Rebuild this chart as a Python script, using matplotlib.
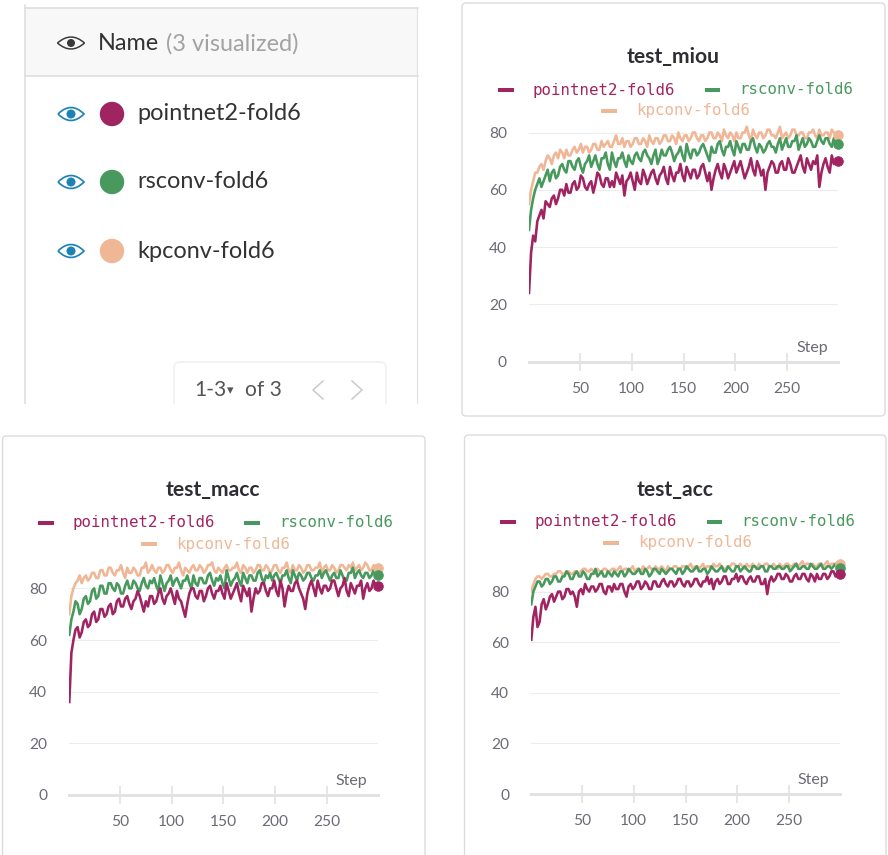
import matplotlib
matplotlib.use("Agg")
import matplotlib.pyplot as plt
from matplotlib.patches import FancyBboxPatch, Circle, PathPatch, Rectangle
from matplotlib.path import Path

plt.rcParams['font.family'] = ['Lato', 'DejaVu Sans']

# ---------------- data ----------------
runs = ["pointnet2-fold6", "rsconv-fold6", "kpconv-fold6"]
run_colors = ["#a02462", "#48995e", "#f0b797"]
steps = list(range(1, 300, 2))
x_ticks = [50, 100, 150, 200, 250]
y_ticks = [0, 20, 40, 60, 80]

miou_pointnet = [24, 38, 44, 42, 49, 51, 53, 50, 56, 55, 54, 57, 58, 55, 57, 60, 60, 58, 62, 59,
                 59, 62, 63, 60, 61, 65, 64, 61, 60, 62, 63, 59, 62, 66, 65, 62, 61, 64, 64, 61,
                 63, 61, 66, 64, 62, 65, 58, 63, 64, 66, 63, 60, 66, 63, 62, 67, 65, 62, 64, 66,
                 67, 64, 62, 65, 66, 68, 64, 62, 68, 65, 63, 66, 66, 69, 65, 63, 68, 66, 64, 67,
                 67, 64, 65, 68, 69, 66, 63, 66, 60, 64, 67, 69, 66, 64, 69, 67, 64, 66, 68, 70,
                 66, 68, 70, 67, 64, 66, 68, 71, 67, 65, 70, 68, 65, 67, 60, 66, 68, 70, 69, 66,
                 66, 69, 70, 67, 67, 71, 69, 66, 66, 68, 70, 72, 68, 66, 71, 69, 67, 70, 69, 72,
                 61, 66, 69, 71, 68, 66, 72, 69, 70, 70]
miou_rsconv = [46, 53, 57, 60, 62, 64, 61, 63, 65, 67, 63, 66, 67, 64, 65, 68, 69, 67, 66, 70,
               70, 68, 67, 70, 71, 68, 66, 69, 70, 72, 68, 70, 72, 69, 67, 71, 71, 73, 69, 67,
               73, 70, 68, 71, 71, 73, 70, 68, 72, 70, 69, 72, 73, 71, 70, 73, 74, 72, 71, 69,
               72, 74, 69, 71, 74, 72, 72, 74, 75, 73, 70, 72, 73, 75, 72, 70, 76, 73, 71, 74,
               74, 72, 73, 75, 76, 74, 72, 70, 75, 73, 73, 76, 77, 74, 72, 75, 75, 77, 74, 72,
               77, 75, 73, 76, 76, 74, 74, 77, 78, 75, 73, 76, 75, 73, 74, 76, 77, 75, 75, 73,
               76, 78, 74, 76, 78, 75, 75, 77, 77, 79, 74, 76, 78, 75, 76, 78, 77, 75, 75, 77,
               79, 77, 76, 78, 78, 76, 75, 78, 76, 76]
miou_kpconv = [55, 60, 63, 66, 66, 68, 69, 67, 70, 72, 71, 69, 72, 73, 71, 74, 73, 71, 74, 72,
               72, 74, 75, 73, 74, 76, 73, 75, 75, 73, 74, 76, 76, 74, 74, 77, 75, 76, 77, 75,
               75, 77, 79, 76, 76, 78, 75, 77, 77, 75, 76, 78, 78, 76, 76, 78, 77, 75, 79, 77,
               76, 78, 78, 76, 77, 79, 79, 77, 77, 79, 78, 76, 80, 78, 77, 79, 79, 77, 78, 80,
               80, 78, 77, 79, 79, 77, 78, 80, 80, 78, 78, 80, 79, 77, 81, 79, 78, 80, 79, 77,
               80, 78, 78, 80, 80, 82, 79, 77, 81, 79, 78, 80, 80, 78, 79, 81, 81, 79, 79, 78,
               80, 82, 78, 79, 80, 78, 79, 81, 81, 79, 79, 80, 80, 78, 78, 80, 80, 81, 79, 78,
               81, 79, 79, 80, 80, 78, 81, 80, 79, 79]

macc_pointnet = [36, 55, 60, 64, 65, 61, 63, 67, 68, 65, 66, 70, 71, 67, 68, 72, 72, 69, 70, 73,
                 74, 70, 71, 75, 76, 73, 73, 76, 77, 74, 72, 75, 76, 79, 77, 74, 71, 75, 73, 77,
                 77, 74, 75, 78, 80, 76, 74, 77, 78, 80, 77, 74, 79, 76, 75, 72, 69, 74, 78, 80,
                 80, 77, 76, 79, 79, 75, 77, 80, 81, 78, 76, 79, 79, 81, 78, 76, 82, 79, 76, 78,
                 80, 82, 78, 75, 81, 79, 77, 80, 71, 76, 80, 78, 79, 82, 82, 79, 77, 80, 80, 83,
                 79, 77, 83, 80, 73, 78, 81, 79, 79, 82, 83, 80, 78, 76, 72, 78, 81, 83, 80, 77,
                 83, 80, 78, 81, 81, 79, 80, 83, 83, 80, 77, 80, 81, 84, 79, 77, 82, 80, 78, 81,
                 81, 83, 76, 80, 82, 79, 80, 83, 81, 81]
macc_rsconv = [62, 68, 71, 75, 74, 70, 72, 76, 77, 74, 75, 79, 80, 76, 77, 81, 81, 78, 78, 82,
               82, 80, 79, 82, 81, 78, 78, 81, 83, 80, 80, 83, 82, 80, 79, 82, 84, 81, 80, 83,
               82, 84, 81, 79, 85, 82, 79, 82, 83, 85, 81, 83, 84, 82, 80, 83, 83, 85, 82, 80,
               85, 82, 81, 84, 84, 82, 82, 85, 86, 83, 81, 84, 83, 85, 82, 80, 87, 84, 81, 83,
               84, 86, 83, 81, 86, 84, 82, 85, 85, 83, 83, 86, 87, 84, 82, 85, 84, 86, 83, 85,
               86, 84, 82, 85, 85, 87, 84, 82, 87, 85, 83, 86, 85, 83, 84, 86, 86, 84, 83, 85,
               85, 87, 84, 86, 87, 85, 83, 85, 86, 84, 84, 87, 85, 83, 83, 86, 86, 88, 84, 86,
               87, 85, 84, 86, 86, 84, 85, 87, 85, 85]
macc_kpconv = [70, 77, 80, 82, 83, 85, 82, 84, 85, 83, 84, 86, 86, 84, 84, 87, 87, 85, 85, 88,
               88, 86, 85, 87, 87, 89, 86, 84, 88, 86, 86, 88, 87, 85, 85, 88, 88, 90, 86, 87,
               89, 87, 86, 88, 88, 86, 87, 89, 89, 87, 86, 88, 88, 90, 87, 85, 88, 87, 86, 88,
               89, 87, 87, 89, 88, 86, 87, 89, 89, 90, 87, 86, 88, 87, 86, 88, 89, 87, 87, 88,
               88, 90, 87, 86, 89, 88, 86, 88, 88, 86, 87, 89, 89, 87, 87, 89, 88, 86, 87, 89,
               89, 87, 86, 88, 88, 90, 87, 86, 89, 87, 87, 89, 88, 86, 87, 89, 89, 87, 87, 88,
               88, 90, 86, 88, 89, 87, 87, 89, 88, 86, 87, 89, 89, 88, 87, 89, 88, 90, 87, 88,
               89, 87, 88, 90, 89, 87, 87, 89, 88, 88]

acc_pointnet = [61, 70, 74, 66, 68, 75, 77, 73, 75, 78, 79, 76, 78, 80, 80, 77, 78, 81, 81, 79,
                80, 78, 74, 80, 81, 79, 83, 81, 80, 82, 82, 80, 81, 83, 83, 80, 79, 82, 82, 80,
                83, 81, 81, 83, 83, 80, 78, 82, 83, 81, 82, 84, 84, 81, 82, 84, 83, 81, 81, 84,
                84, 82, 82, 84, 85, 83, 82, 84, 84, 82, 83, 85, 85, 83, 82, 84, 84, 82, 83, 85,
                85, 83, 82, 84, 84, 86, 83, 85, 81, 84, 85, 83, 84, 86, 86, 83, 83, 85, 85, 87,
                84, 86, 86, 84, 83, 85, 86, 84, 84, 86, 86, 83, 83, 85, 79, 84, 86, 84, 85, 87,
                87, 85, 85, 87, 86, 84, 84, 86, 87, 85, 85, 87, 87, 85, 84, 87, 86, 84, 87, 85,
                85, 87, 87, 85, 86, 88, 88, 86, 87, 87]
acc_rsconv = [75, 80, 82, 84, 84, 82, 83, 85, 85, 83, 84, 86, 86, 84, 84, 86, 86, 88, 87, 85,
              85, 87, 88, 86, 86, 88, 87, 85, 85, 87, 87, 89, 86, 87, 88, 86, 86, 88, 87, 86,
              88, 87, 86, 88, 88, 86, 87, 89, 88, 87, 87, 88, 89, 87, 87, 89, 88, 86, 87, 89,
              89, 88, 87, 89, 88, 87, 88, 89, 89, 88, 87, 89, 89, 87, 88, 90, 89, 88, 88, 89,
              90, 88, 88, 89, 89, 87, 88, 90, 89, 88, 88, 89, 90, 88, 88, 90, 89, 88, 88, 90,
              90, 88, 89, 90, 89, 88, 88, 90, 90, 89, 89, 90, 90, 88, 88, 90, 90, 89, 89, 90,
              90, 89, 89, 90, 90, 88, 89, 90, 91, 89, 89, 90, 90, 89, 89, 91, 90, 89, 89, 90,
              91, 89, 89, 90, 90, 89, 90, 91, 89.5, 89.5]
acc_kpconv = [80, 83, 85, 86, 86, 85, 86, 87, 87, 86, 86, 87, 87, 88, 88, 87, 87, 88, 88, 87,
              87, 88, 88, 87, 88, 89, 89, 88, 88, 89, 88, 87, 89, 88, 88, 89, 89, 88, 88, 89,
              89, 88, 89, 90, 88, 89, 89, 88, 89, 90, 88, 89, 89, 88, 90, 89, 89, 90, 89, 88,
              90, 89, 89, 90, 89, 88, 90, 89, 89, 90, 90, 89, 89, 90, 90, 89, 90, 91, 89, 90,
              90, 89, 90, 91, 89, 90, 90, 89, 91, 90, 90, 91, 90, 89, 89, 90, 90, 91, 91, 90,
              90, 91, 90, 89, 91, 90, 90, 91, 90, 89, 91, 90, 90, 91, 91, 90, 90, 91, 90, 89,
              91, 90, 90, 91, 91, 90, 90, 91, 91, 90, 91, 92, 90, 91, 91, 90, 91, 90, 90, 91,
              91, 90, 91, 92, 90, 91, 91, 90, 91, 91]

# ---------------- figure ----------------
W, H = 888, 855
fig = plt.figure(figsize=(W / 72, H / 72), dpi=72)
bg = fig.add_axes([0, 0, 1, 1])
bg.set_xlim(0, W)
bg.set_ylim(H, 0)
bg.axis('off')

GRID = "#ececec"
AXIS = "#e2e2e2"
TICKC = "#6b6b76"
BORDER = "#dadada"


def card(x0, y0, x1, y1):
    bg.add_patch(FancyBboxPatch((x0, y0), x1 - x0, y1 - y0,
                                boxstyle="round,pad=0,rounding_size=4",
                                fc="white", ec=BORDER, lw=1.3, zorder=0))


def eye(cx, cy, w, h, color, lw=1.6, pupil=4.2):
    verts = [(cx - w / 2, cy), (cx, cy - h), (cx + w / 2, cy),
             (cx, cy + h), (cx - w / 2, cy)]
    codes = [Path.MOVETO, Path.CURVE3, Path.CURVE3, Path.CURVE3, Path.CURVE3]
    bg.add_patch(PathPatch(Path(verts, codes), fc="none", ec=color, lw=lw, zorder=3))
    bg.add_patch(Circle((cx, cy), pupil, fc=color, ec="none", zorder=3))


# ---- runs table panel ----
bg.add_patch(Rectangle((25, 7.5), 392, 68.5, fc="#f8f8f8", ec="none", zorder=0))
bg.plot([25, 418], [7.5, 7.5], color="#dcdcdc", lw=1.5, zorder=1)
bg.plot([25, 418], [76, 76], color="#dcdcdc", lw=1.5, zorder=1)
bg.plot([25, 25], [5, 404], color="#dcdcdc", lw=1.5, zorder=1)
bg.plot([417, 417], [7.5, 404], color="#e2e2e2", lw=1.2, zorder=1)
eye(71, 43, 27, 12, "#3a3a3a", lw=1.5, pupil=4.0)
bg.text(98, 44, "Name", fontsize=23.5, color="#333333", va="center", ha="left")
bg.text(166, 44, "(3 visualized)", fontsize=23.5, color="#a3a3a3", va="center", ha="left")
for i, (name, col) in enumerate(zip(runs, run_colors)):
    yy = [114, 182, 251][i]
    eye(71, yy, 26, 13, "#1b83b6", lw=1.7, pupil=4.5)
    bg.add_patch(Circle((112, yy), 12.2, fc=col, ec="none", zorder=3))
    bg.text(137, yy, name, fontsize=23.5, color="#333333", va="center", ha="left")

bg.add_patch(FancyBboxPatch((174, 362), 212, 60, boxstyle="round,pad=0,rounding_size=6",
                            fc="white", ec="#efefef", lw=1.5, zorder=2))
bg.add_patch(Rectangle((0, 404), 460, 30, fc="white", ec="none", zorder=2.5))
bg.text(194, 390, "1-3", fontsize=21, color="#555555", va="center", ha="left", zorder=3)
bg.text(227, 391, "\u25be", fontsize=13, color="#555555", va="center", ha="left",
        family="DejaVu Sans", zorder=3)
bg.text(245, 390, "of 3", fontsize=21, color="#555555", va="center", ha="left", zorder=3)
bg.plot([323, 313, 323], [381, 390, 399], color="#c9c9c9", lw=1.5, zorder=3)
bg.plot([352, 362, 352], [381, 390, 399], color="#c9c9c9", lw=1.5, zorder=3)

# ---- chart cards ----
card(462, 3, 885, 416)
card(2.5, 436, 425, 880)
card(464.5, 435, 886, 880)


def chart(title, series, x1px, x299px, zero_px, scale, title_xy, leg):
    ytop = max(max(v) for v in series) + 2
    top_px = zero_px - ytop * scale
    ax = fig.add_axes([x1px / W, (H - zero_px) / H, (x299px - x1px) / W,
                       (zero_px - top_px) / H])
    ax.patch.set_alpha(0)
    ax.set_xlim(1, 299)
    ax.set_ylim(0, ytop)
    for s in ax.spines.values():
        s.set_visible(False)
    ax.set_yticks(y_ticks)
    ax.set_xticks(x_ticks)
    ax.tick_params(axis='y', length=0, pad=22, labelsize=15.5, labelcolor=TICKC)
    ax.tick_params(axis='x', direction='inout', length=18, width=1.7, color=AXIS,
                   pad=11, labelsize=15.5, labelcolor=TICKC)
    for v in y_ticks[1:]:
        ax.axhline(v, color=GRID, lw=1.1, zorder=0)
    ax.axhline(0, color=AXIS, lw=3, zorder=0.5, clip_on=False)
    order = [2, 1, 0]
    for k in order:
        vals = series[k]
        xs = steps[:len(vals)]
        ax.plot(xs, vals, color=run_colors[k], lw=2.6, zorder=2 + (2 - k) * 0.1,
                solid_joinstyle='round')
        ax.plot(xs[-1], vals[-1], 'o', ms=9.5, color=run_colors[k], zorder=3 + (2 - k) * 0.1,
                clip_on=False)
    bg.text(x299px - 26, zero_px - 14, "Step", fontsize=16, color=TICKC,
            ha="center", va="center", zorder=5)
    # title and legend
    bg.text(title_xy[0], title_xy[1], title, fontsize=21, weight="bold",
            color="#2d2d33", ha="center", va="center", zorder=5)
    for k, (sx, ty, tx) in enumerate(leg):
        bg.plot([sx, sx + 15.5], [ty, ty], color=run_colors[k], lw=4,
                solid_capstyle="butt", zorder=5)
        bg.text(tx, ty, runs[k], fontsize=15.8, family="DejaVu Sans Mono",
                color=run_colors[k], ha="left", va="center", zorder=5)
    return ax


chart("test_miou", [miou_pointnet, miou_rsconv, miou_kpconv],
      529, 838, 361.7, 2.865, (673, 57),
      [(498, 90, 533), (704.5, 90, 739.5), (601, 111, 636)])
chart("test_macc", [macc_pointnet, macc_rsconv, macc_kpconv],
      69.3, 377.7, 795, 2.583, (213, 490),
      [(38, 522.5, 73), (244, 522.5, 279), (141, 544, 176)])
chart("test_acc", [acc_pointnet, acc_rsconv, acc_kpconv],
      531.3, 839.7, 794, 2.53, (675, 490),
      [(500, 521.5, 535), (706.5, 521.5, 741.5), (603, 543, 638)])

fig.savefig("out.png", dpi=72)
